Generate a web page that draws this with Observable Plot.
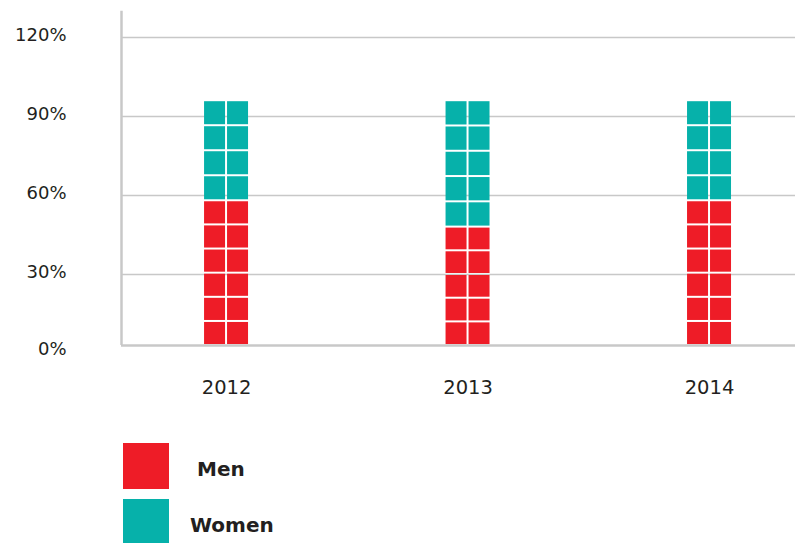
<!DOCTYPE html>
<html><head><meta charset="utf-8">
<script src="https://cdn.jsdelivr.net/npm/d3@7"></script>
<script src="https://cdn.jsdelivr.net/npm/@observablehq/plot@0.6"></script>
<style>
body{margin:0;background:#fff;font-family:"DejaVu Sans",sans-serif;}
#chart{position:relative;width:795px;}
.leg{position:relative;height:46px;margin-top:10px;}
.leg .sw{position:absolute;left:123px;top:0;width:46px;height:46px;}
.leg .lb{position:absolute;top:3px;line-height:46px;font-weight:bold;font-size:20px;color:#231f20;}
</style></head><body>
<div id="chart"></div>
<div id="legend" style="margin-top:-7px"></div>
<script>
const years = [2012, 2013, 2014];
const men = [58, 48, 58];
const women = [38, 48, 38];
const yTicks = [0, 30, 60, 90, 120];
const series = ["Men", "Women"];
const colors = ["#EE1C27", "#06B1AA"];

const axisFloor = 3;      // the drawn baseline sits slightly above 0%
const rowSize = 9.5;      // percentage per row of cells
const hw = 0.0952;        // half bar width in year units
const xDomain = [2011.565, 2014.356];

const cells = [];
years.forEach((yr, i) => {
  let base = axisFloor;
  [[series[0], men[i]], [series[1], men[i] + women[i]]].forEach(([s, top]) => {
    const v = top - base;
    const n = Math.max(1, Math.round(v / rowSize));
    for (let r = 0; r < n; r++) {
      for (let c = 0; c < 2; c++) {
        cells.push({year: yr, col: c, series: s, y1: base + v * r / n, y2: base + v * (r + 1) / n});
      }
    }
    base = top;
  });
});

const chart = Plot.plot({
  width: 795,
  height: 440,
  marginLeft: 121,
  marginRight: 0,
  marginTop: 37,
  marginBottom: 87,
  style: {fontFamily: "DejaVu Sans", color: "#231f20", background: "#fff"},
  x: {domain: xDomain, axis: null},
  y: {domain: [0, 120], axis: null},
  color: {domain: series, range: colors},
  marks: [
    Plot.gridY(yTicks.filter(d => d > 0), {stroke: "#c8c8c8", strokeOpacity: 1, strokeWidth: 1.5}),
    Plot.rect(cells, {
      x1: d => d.year - hw + d.col * hw,
      x2: d => d.year + d.col * hw,
      y1: "y1", y2: "y2",
      fill: "series",
      inset: 1
    }),
    Plot.ruleY([axisFloor], {stroke: "#c8c8c8", strokeWidth: 2.5}),
    Plot.ruleX([xDomain[0]], {y1: axisFloor, y2: 130, stroke: "#c8c8c8", strokeWidth: 2.5}),
    Plot.axisY(yTicks.filter(d => d > 0), {tickSize: 0, tickPadding: 55, dy: -2, tickFormat: d => d + "%", fontSize: 18, label: null}),
    Plot.axisY([0], {tickSize: 0, tickPadding: 55, dy: -4, tickFormat: d => d + "%", fontSize: 18, label: null}),
    Plot.axisX(years, {tickSize: 0, tickPadding: 27, tickFormat: d => String(d), fontSize: 19.5, label: null})
  ]
});
document.getElementById("chart").appendChild(chart);

const leg = document.getElementById("legend");
const labelLeft = [197, 190];
series.forEach((s, i) => {
  const row = document.createElement("div");
  row.className = "leg";
  row.innerHTML = `<div class="sw" style="background:${colors[i]}"></div><div class="lb" style="left:${labelLeft[i]}px">${s}</div>`;
  leg.appendChild(row);
});
</script>
</body></html>
